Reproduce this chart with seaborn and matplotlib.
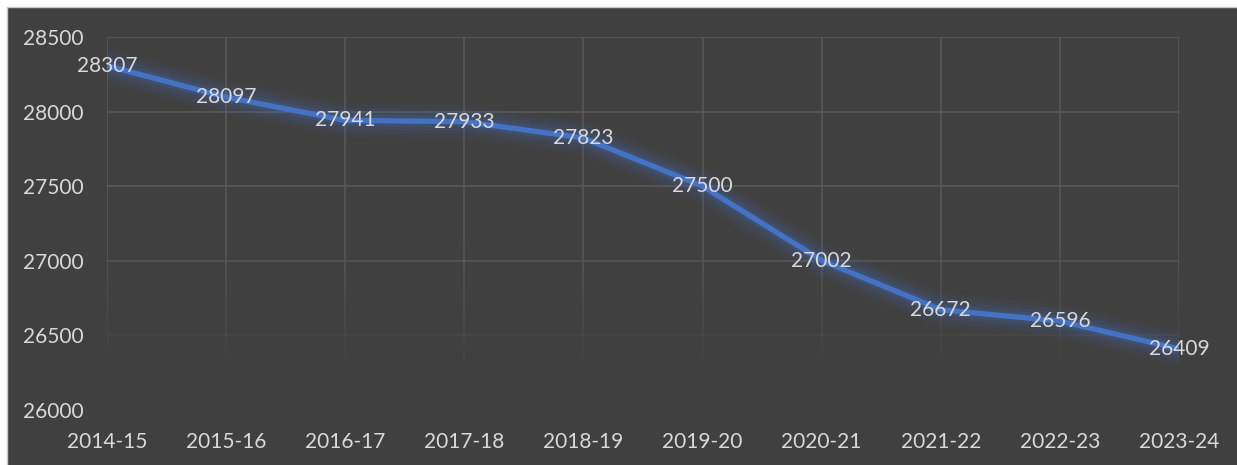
import numpy as np
import pandas as pd
import matplotlib.pyplot as plt
import matplotlib.patheffects as pe
from matplotlib.patches import Rectangle
import seaborn as sns

years = ['2014-15', '2015-16', '2016-17', '2017-18', '2018-19',
         '2019-20', '2020-21', '2021-22', '2022-23', '2023-24']
values = [28307, 28097, 27941, 27933, 27823, 27500, 27002, 26672, 26596, 26409]
y_ticks = [26000, 26500, 27000, 27500, 28000, 28500]

df = pd.DataFrame({'year': years, 'value': values})

bg = '#404040'
grid_col = '#585858'
txt_col = '#d9d9d9'
line_col = '#4472C4'

sns.set_style('dark')
plt.rcParams['font.family'] = ['Lato', 'DejaVu Sans']

fig = plt.figure(figsize=(12.37, 4.65), dpi=100, facecolor='white')
# dark chart area with thin light frame, leaving a small white strip top/left
fig.patches.append(Rectangle((7 / 1237, -0.01), 1.01, 1 - 7 / 465 + 0.01,
                             transform=fig.transFigure, facecolor=bg,
                             edgecolor='#c8c8c8', linewidth=1, zorder=-10))

ax = fig.add_axes([107 / 1237, 1 - 410 / 465, (1179 - 107) / 1237, (410 - 37) / 465])
ax.set_facecolor(bg)
ax.patch.set_alpha(0)

sns.lineplot(data=df, x='year', y='value', ax=ax, color=line_col,
             linewidth=3.8, sort=False, zorder=5)
line = ax.get_lines()[0]
line.set_solid_capstyle('round')
line.set_path_effects([
    pe.Stroke(linewidth=24, foreground=line_col, alpha=0.06),
    pe.Stroke(linewidth=18, foreground=line_col, alpha=0.08),
    pe.Stroke(linewidth=13, foreground=line_col, alpha=0.11),
    pe.Stroke(linewidth=8, foreground=line_col, alpha=0.16),
    pe.Normal(),
])

ax.set_xlim(0, len(years) - 1)
ax.set_ylim(y_ticks[0], y_ticks[-1])
ax.set_yticks(y_ticks)
ax.set_xlabel('')
ax.set_ylabel('')
ax.grid(False)

# gridlines fading out toward the bottom of the plot
def fade(v):
    return float(np.clip((v - 26250) / 900.0, 0, 1))

for t in y_ticks:
    a = fade(t)
    if a > 0:
        ax.axhline(t, color=grid_col, linewidth=1.2, alpha=a, zorder=1)
seg = np.linspace(26250, 28500, 46)
for i in range(len(years)):
    for lo, hi in zip(seg[:-1], seg[1:]):
        a = fade((lo + hi) / 2)
        if a > 0:
            ax.plot([i, i], [lo, hi], color=grid_col, linewidth=1.2, alpha=a,
                    zorder=1, solid_capstyle='butt')

for s in ax.spines.values():
    s.set_visible(False)
ax.tick_params(axis='both', length=0, colors=txt_col, labelsize=15)
ax.tick_params(axis='y', pad=17)
ax.tick_params(axis='x', pad=16)

for i, v in enumerate(values):
    ax.text(i, v, str(v), ha='center', va='center', color=txt_col,
            fontsize=15, zorder=6)

fig.savefig('out.png', dpi=100, facecolor=fig.get_facecolor())
